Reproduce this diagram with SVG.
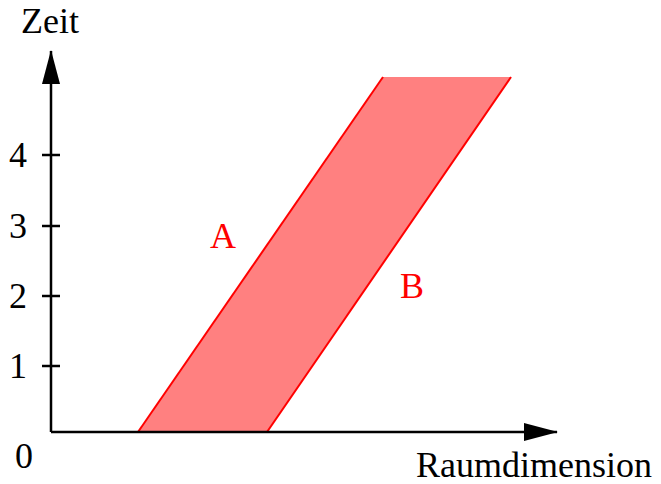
<svg xmlns="http://www.w3.org/2000/svg" width="661" height="484" viewBox="0 0 661 484">
<style>
text{font-family:"Liberation Serif","Times New Roman",serif;font-size:36px;fill:#000}
.red{fill:#ff0000}
.axis{stroke:#000;stroke-width:2.5;fill:none}
.edge{stroke:#ff0000;stroke-width:2;fill:none}
</style>
<defs>
<marker id="ah" markerWidth="34" markerHeight="18" refX="33" refY="9" orient="auto" markerUnits="userSpaceOnUse">
<path d="M0,0 L34,9 L0,18 Z" fill="#000"/>
</marker>
</defs>
<g id="band">
<polygon points="138,432 267,432 511,77 383,77" fill="#ff8080"/>
<line class="edge" x1="138" y1="432" x2="383" y2="77"/>
<line class="edge" x1="267" y1="432" x2="511" y2="77"/>
</g>
<g id="axes">
<path class="axis" d="M51,432 L51,51" marker-end="url(#ah)"/>
<path class="axis" d="M51,432 L557,432" marker-end="url(#ah)"/>
<line class="axis" x1="42" y1="155" x2="60" y2="155"/>
<line class="axis" x1="42" y1="226" x2="60" y2="226"/>
<line class="axis" x1="42" y1="296" x2="60" y2="296"/>
<line class="axis" x1="42" y1="366" x2="60" y2="366"/>
</g>
<g id="labels">
<text x="21" y="33">Zeit</text>
<text x="416" y="477">Raumdimension</text>
<text x="27" y="167" text-anchor="end">4</text>
<text x="27" y="238" text-anchor="end">3</text>
<text x="27" y="308" text-anchor="end">2</text>
<text x="27" y="378" text-anchor="end">1</text>
<text x="24" y="468" text-anchor="middle">0</text>
<text class="red" x="223" y="248" text-anchor="middle">A</text>
<text class="red" x="412" y="298" text-anchor="middle">B</text>
</g>
</svg>
